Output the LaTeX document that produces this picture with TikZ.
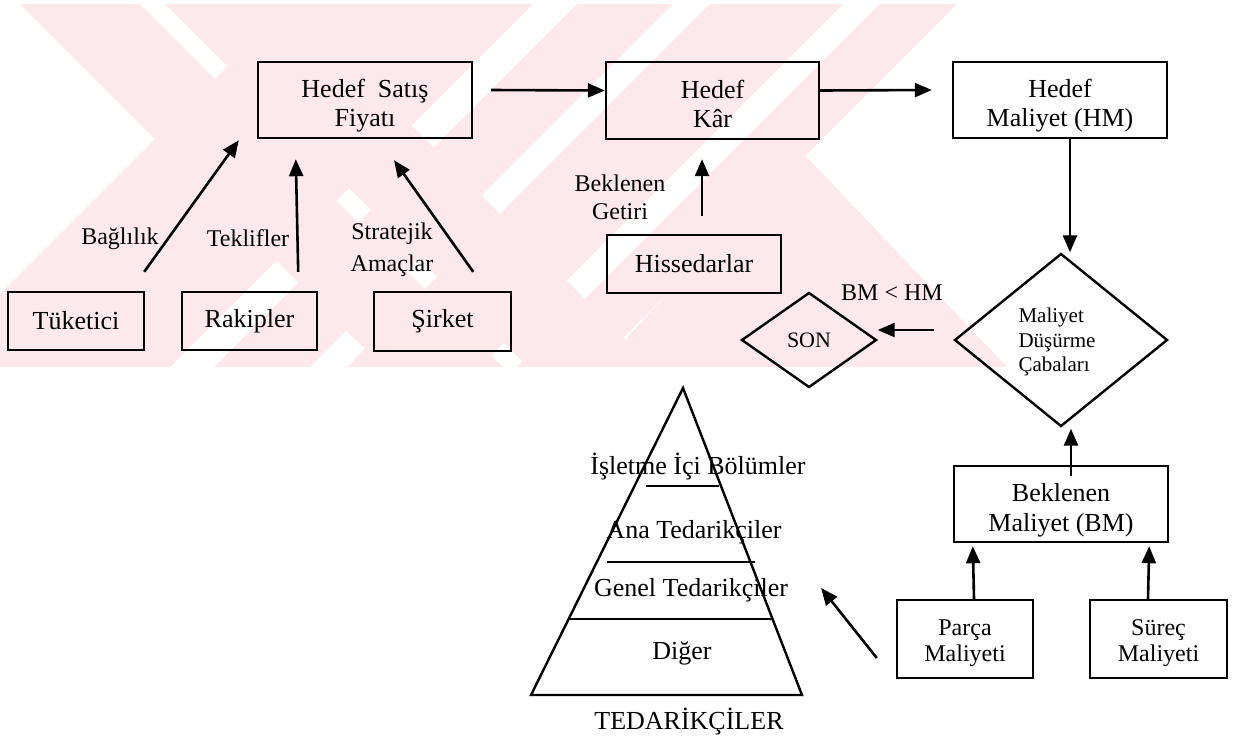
\documentclass[tikz,border=0pt]{standalone}
\usepackage{fontspec}
\setmainfont{Liberation Serif}
\usetikzlibrary{arrows.meta,shapes.geometric,calc}
\definecolor{wm}{RGB}{253,233,236}
\newcommand\myfs[2]{\fontsize{#1}{#2}\selectfont}
\newcommand\dnstrut[1]{\rule{0pt}{#1}}
\begin{document}
\begin{tikzpicture}[x=1pt,y=-1pt,
  ln/.style={line width=2.4pt},
  box/.style={draw,line width=2.4pt,inner sep=0pt,align=center,font=\myfs{26}{29}},
  sbox/.style={draw,line width=2.4pt,inner sep=0pt,align=center,font=\myfs{24}{26}},
  dmd/.style={draw,diamond,line width=2.4pt,inner sep=0pt},
  lbl/.style={inner sep=0pt,align=center,font=\myfs{24}{30}},
  ptxt/.style={inner sep=0pt,font=\myfs{26}{30}},
  arr/.style={line width=2.6pt,-{Triangle[length=17pt,width=14pt]}}]
\useasboundingbox (0,0) rectangle (1246,740);
% watermark
\begin{scope}
\clip (0,4) rectangle (1010,367);
\fill[wm] (20,4) -- (140,4) -- (503,367) -- (383,367) -- cycle;
\fill[wm] (165,4) -- (290,4) -- (653,367) -- (528,367) -- cycle;
\fill[wm] (290,4) -- (533,4) -- (170,367) -- (-73,367) -- cycle;
\fill[wm] (577,4) -- (673,4) -- (310,367) -- (214,367) -- cycle;
\fill[wm] (710,4) -- (843,4) -- (480,367) -- (347,367) -- cycle;
\fill[wm] (880,4) -- (957,4) -- (594,367) -- (517,367) -- cycle;
\fill[wm] (800,150) -- (1007,367) -- (600,367) -- cycle;
\end{scope}
% boxes
\node[box,minimum width=136pt,minimum height=58pt] (tuk) at (76,321) {Tüketici};
\node[box,minimum width=135pt,minimum height=58pt] (rak) at (249.5,321) {Rakipler};
\node[box,minimum width=137pt,minimum height=59pt] (sir) at (442.5,321.5) {Şirket};
\node[box,minimum width=214pt,minimum height=76pt] (hsf) at (365,100) {\dnstrut{30pt}Hedef\ \ Satış\\Fiyatı};
\node[box,minimum width=213pt,minimum height=77pt] (hk) at (712.5,100.5) {\dnstrut{26pt}Hedef\\Kâr};
\node[box,minimum width=214pt,minimum height=76pt] (hm) at (1060,100) {\dnstrut{30pt}Hedef\\Maliyet (HM)};
\node[box,minimum width=174pt,minimum height=58pt] (his) at (694,264) {Hissedarlar};
\node[box,minimum width=214pt,minimum height=76pt,font=\myfs{26}{30}] (bm) at (1061,504) {\dnstrut{30pt}Beklenen\\Maliyet (BM)};
\node[sbox,minimum width=136pt,minimum height=78pt] (par) at (965,639) {\dnstrut{25pt}Parça\\Maliyeti};
\node[sbox,minimum width=137pt,minimum height=78pt] (sur) at (1158.5,639) {\dnstrut{25pt}Süreç\\Maliyeti};
% diamonds
\node[dmd,minimum width=213pt,minimum height=173pt] (dia) at (1061,340) {};
\node[inner sep=0pt,align=left,font=\myfs{21}{24.5}] (diatxt) at (1057,342) {Maliyet\\Düşürme\\Çabaları};
\node[dmd,minimum width=135pt,minimum height=95pt,font=\myfs{22}{24}] (son) at (809,340) {SON};
% labels
\node[lbl] (bag) at (120,239) {Bağlılık};
\node[lbl] (tek) at (248,238) {Teklifler};
\node[lbl,font=\myfs{24}{32}] (str) at (392,250) {Stratejik\\Amaçlar};
\node[lbl,font=\myfs{24}{28}] (bek) at (620,197) {Beklenen\\Getiri};
\node[lbl] (cmp) at (892,293) {BM < HM};
% pyramid
\coordinate (apex) at (683,388);
\coordinate (bl) at (531,695);
\coordinate (br) at (802,695);
\draw[ln,line join=miter] (apex) -- (br) -- (bl) -- cycle;
\draw[ln] (646,486) -- (719,486);
\draw[ln] (607,562) -- (755,562);
\draw[ln] (569,619) -- (772,619);
\node[ptxt] (isl) at (698,467) {İşletme İçi Bölümler};
\node[ptxt] (ana) at (694,532) {Ana Tedarikçiler};
\node[ptxt] (gen) at (691,590) {Genel Tedarikçiler};
\node[ptxt] (dig) at (682,653) {Diğer};
\node[ptxt] (ted) at (689,722) {TEDARİKÇİLER};
% connectors
\draw[arr] ($(tuk.north east)+(-1,-19)$) -- ($(hsf.south west)+(-18,1)$);
\draw[arr] ($(rak.north east)+(-20,-19)$) -- ($(hsf.south west)+(39,20)$);
\draw[arr] ($(sir.north east)+(-39,-19)$) -- ($(hsf.south)+(29,21)$);
\draw[arr] ($(hsf.east)+(18,-10)$) -- ($(hk.west)+(0,-10)$);
\draw[arr] ($(hk.east)+(0,-10)$) -- ($(hm.west)+(-20,-10)$);
\draw[arr] ($(hm.south)+(10,0)$) -- ($(dia.north)+(9,0)$);
\draw[arr] ($(his.north)+(8,-18)$) -- ($(hk.south)+(-10.5,19)$);
\draw[arr] ($(dia.west)+(-19,-10)$) -- ($(son.east)+(0,-10)$);
\draw[arr] ($(bm.north)+(10,11)$) -- ($(dia.south)+(10,1)$);
\draw[arr] ($(par.north)+(9,0)$) -- ($(bm.south west)+(20,3)$);
\draw[arr] ($(sur.north)+(-10.5,0)$) -- ($(bm.south east)+(-20,3)$);
\draw[arr] ($(par.west)+(-19,19)$) -- ($(gen.east)+(33,-2)$);
\end{tikzpicture}
\end{document}
